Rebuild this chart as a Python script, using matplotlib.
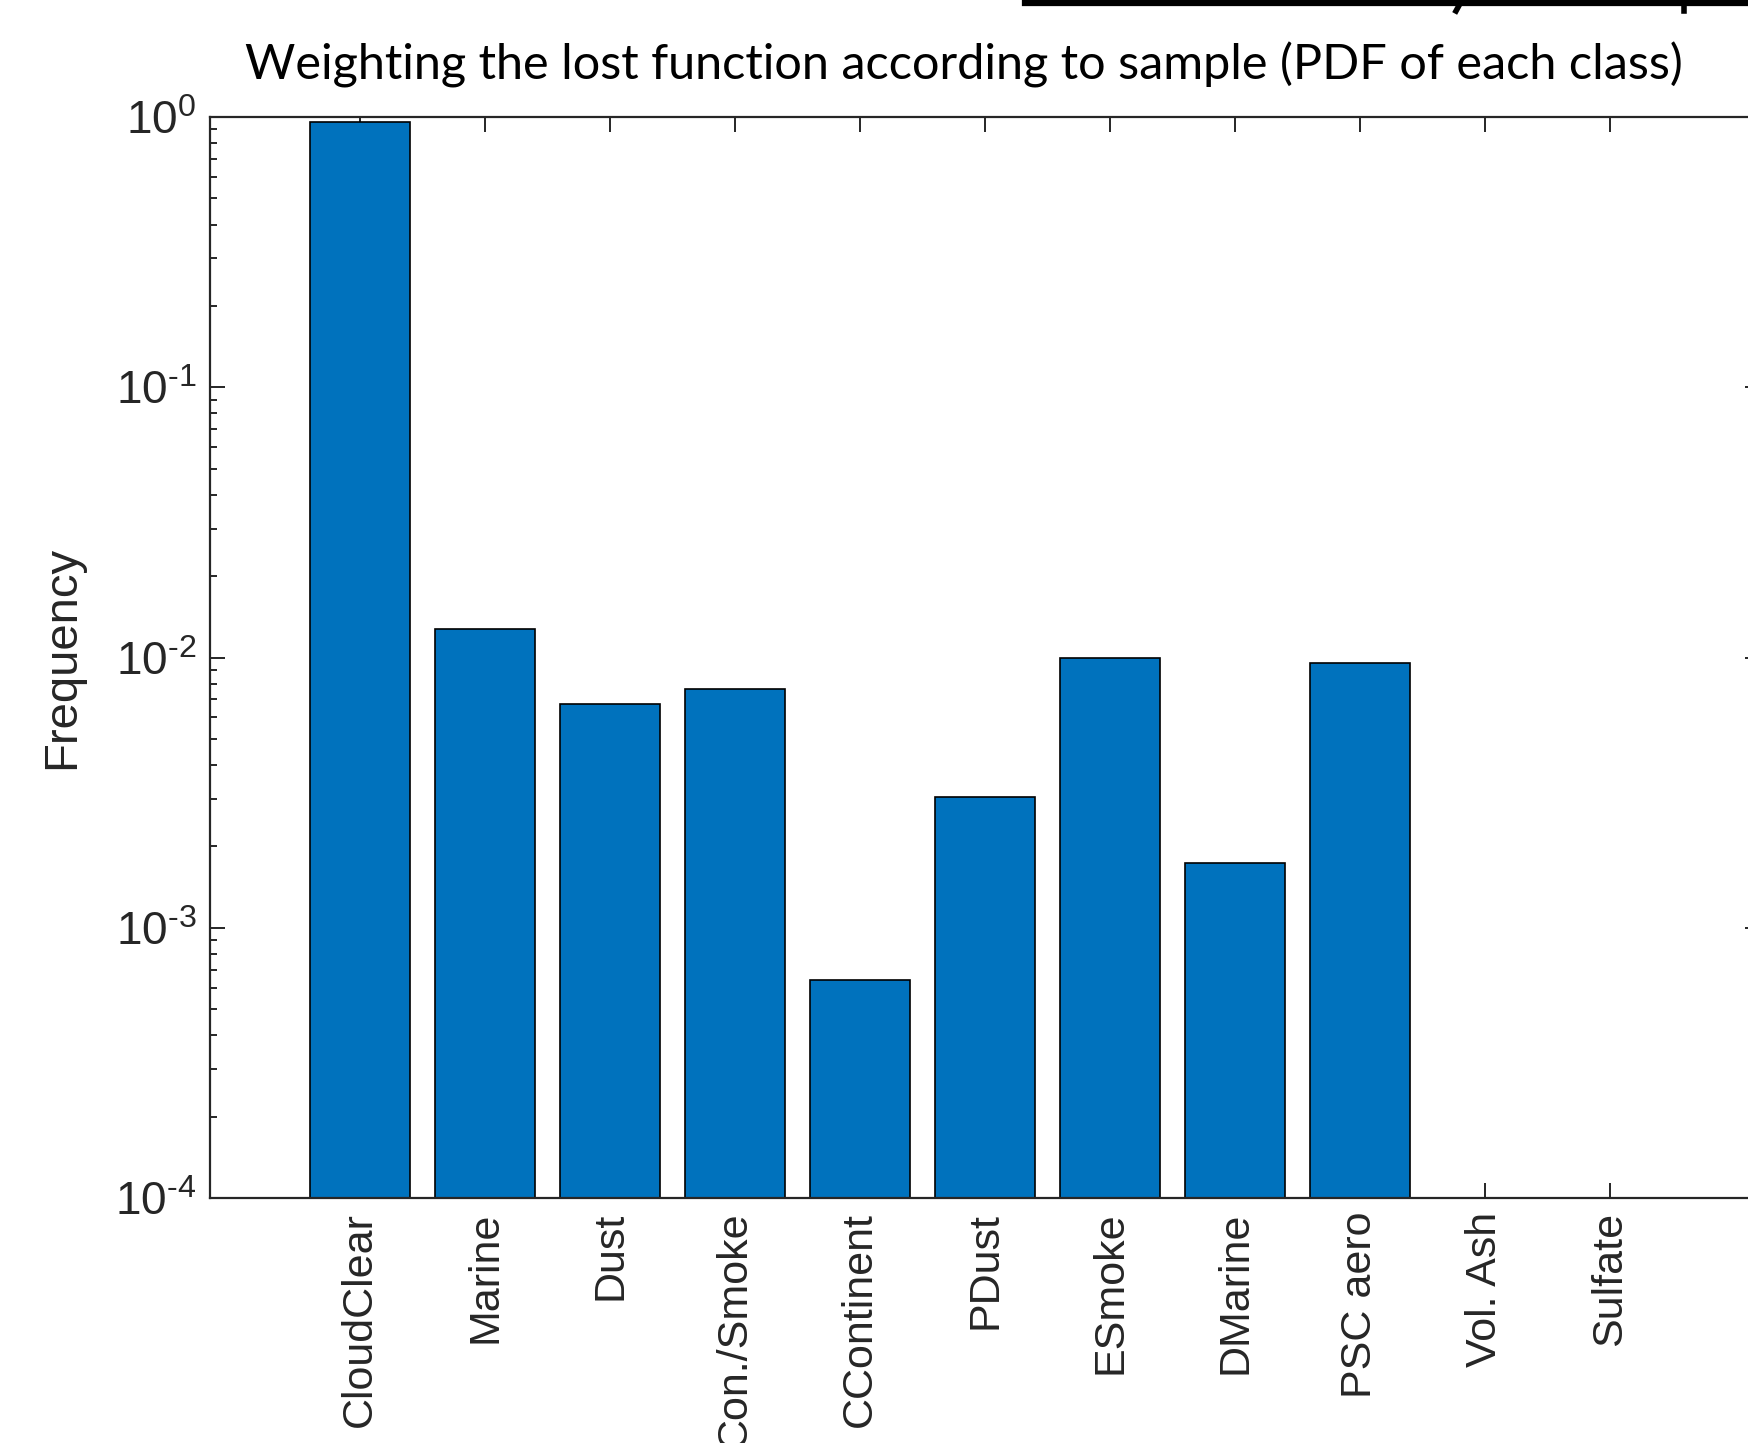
import numpy as np  # arrays
import matplotlib
matplotlib.use("Agg")
import matplotlib.pyplot as plt  # plot
from matplotlib.lines import Line2D

# dados
classes = ["CloudClear", "Marine", "Dust", "Con./Smoke", "CContinent", "PDust",
           "ESmoke", "DMarine", "PSC aero", "Vol. Ash", "Sulfate"]
frequencias = [0.961, 0.0127, 0.00671, 0.00767, 0.000638, 0.00304,
               0.0100, 0.00173, 0.00953, 0.0, 0.0]
expoentes = [-4, -3, -2, -1, 0]
titulo = "Weighting the lost function according to sample (PDF of each class)"

plt.rcParams["font.family"] = ["Liberation Sans", "DejaVu Sans"]
plt.rcParams["mathtext.fontset"] = "custom"
plt.rcParams["mathtext.rm"] = "Liberation Sans"
plt.rcParams["mathtext.it"] = "Liberation Sans"

cor_eixo = "#262626"  # cinza do MATLAB
cor_barra = "#0072BD"  # azul padrão do MATLAB

fig = plt.figure(figsize=(17.49, 14.43), dpi=100)
ax = fig.add_axes([0.1201, 0.1698, 0.8862, 0.7491])  # passa da borda direita como no recorte

x = np.arange(1, len(classes) + 1)
valores = np.array(frequencias, dtype=float)
valores = np.where(valores > 0, valores, np.nan)  # classes vazias não aparecem

ax.bar(x, valores, width=0.8, color=cor_barra, edgecolor="black", linewidth=1.2, zorder=2)

ax.set_yscale("log")
ax.set_ylim(1e-4, 1e0)
ax.set_xlim(-0.2, 12.2)
ax.set_xticks(x)
ax.set_xticklabels(classes, rotation=90, fontsize=31, color=cor_eixo)

# rótulos 10^n com hífen curto, como no MATLAB
ax.set_yticks([10.0 ** e for e in expoentes])
ax.set_yticklabels(["$\\mathregular{10^{\\text{%s}}}$" % str(e) for e in expoentes],
                   fontsize=33, color=cor_eixo)

ax.tick_params(axis="both", which="both", direction="in", colors=cor_eixo,
               top=True, right=True, width=1.4)
ax.tick_params(axis="both", which="major", length=11)
ax.tick_params(axis="y", which="minor", length=5)
ax.tick_params(axis="x", which="major", pad=10)
ax.tick_params(axis="y", which="major", pad=10)

for lado in ax.spines.values():
    lado.set_color(cor_eixo)
    lado.set_linewidth(1.6)

ax.set_ylabel("Frequency", fontsize=34, color=cor_eixo, labelpad=22)

# título (texto do slide)
fig.text(0.551, 0.955, titulo, ha="center", va="center", fontsize=35,
         family=["Lato", "DejaVu Sans"], color="black")

# linha sublinhada cortada no topo do slide
fig.add_artist(Line2D([1025 / 1749, 1.0], [1 - 3 / 1443, 1 - 3 / 1443],
                      transform=fig.transFigure, color="black", linewidth=4.5))
fig.add_artist(Line2D([1462 / 1749, 1456 / 1749], [1.0, 1 - 11 / 1443],
                      transform=fig.transFigure, color="black", linewidth=4))
fig.add_artist(Line2D([1684 / 1749, 1684 / 1749], [1.0, 1 - 11 / 1443],
                      transform=fig.transFigure, color="black", linewidth=4))

fig.savefig("out.png", dpi=100)
